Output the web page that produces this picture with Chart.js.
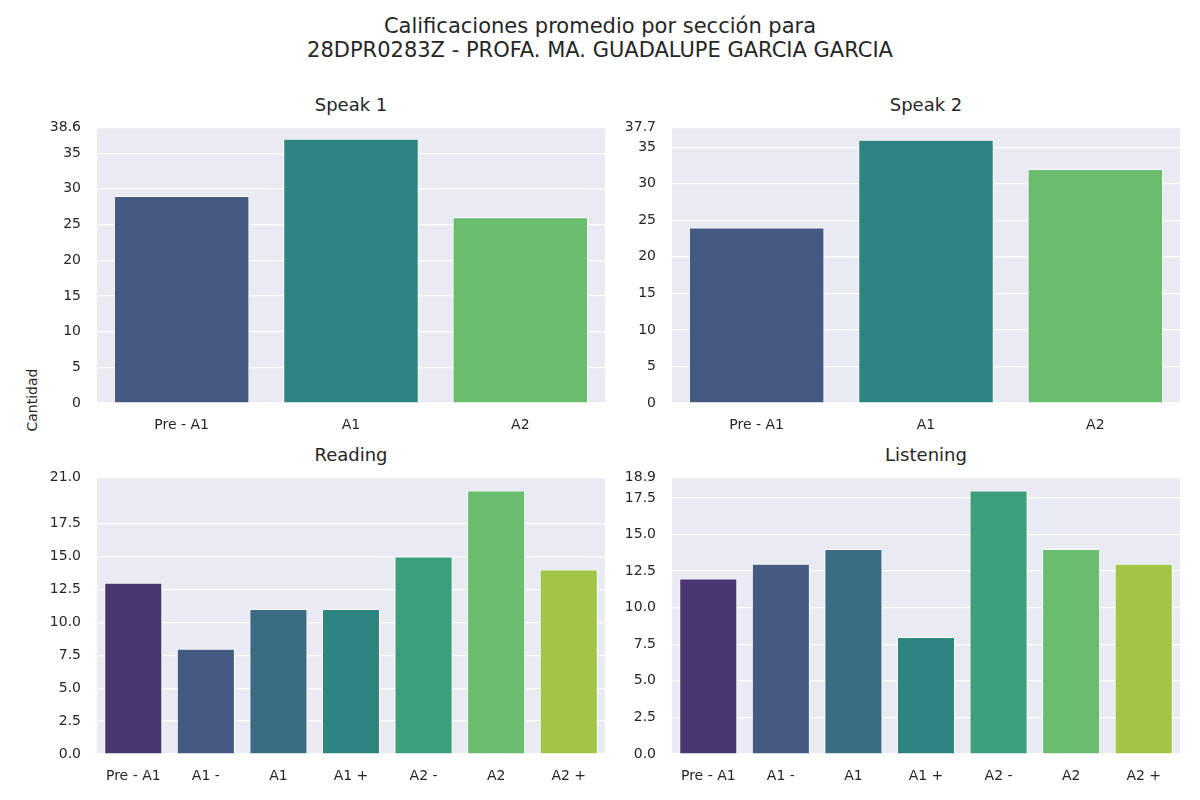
<!DOCTYPE html>
<html><head><meta charset="utf-8">
<script src="https://cdn.jsdelivr.net/npm/chart.js@4"></script>
<style>
body{margin:0;width:1200px;height:800px;background:#fff;position:relative;font-family:"DejaVu Sans",sans-serif;color:#262626;overflow:hidden}
.t{position:absolute;text-align:center;white-space:nowrap}
canvas{position:absolute}
</style></head><body>
<div class="t" style="left:0;width:1200px;top:14px;font-size:21px;line-height:24px">Calificaciones promedio por sección para<br>28DPR0283Z - PROFA. MA. GUADALUPE GARCIA GARCIA</div>
<div class="t" style="left:97px;width:508px;top:94px;font-size:18px">Speak 1</div>
<div class="t" style="left:672px;width:508px;top:94px;font-size:18px">Speak 2</div>
<div class="t" style="left:97px;width:508px;top:444px;font-size:18px">Reading</div>
<div class="t" style="left:672px;width:508px;top:444px;font-size:18px">Listening</div>
<div class="t" style="left:32px;top:400px;font-size:14px;transform:translate(-50%,-50%) rotate(-90deg)">Cantidad</div>
<canvas id="c1"></canvas><canvas id="c2"></canvas><canvas id="c3"></canvas><canvas id="c4"></canvas>
<script>
const speakCats=["Pre - A1","A1","A2"];
const speak1Vals=[29,37,26];
const speak2Vals=[24,36,32];
const levelCats=["Pre - A1","A1 -","A1","A1 +","A2 -","A2","A2 +"];
const readingVals=[13,8,11,11,15,20,14];
const listeningVals=[12,13,14,8,18,14,13];
const col3=["#455a82","#2e847e","#6bbd6e"];
const col7=["#4a3670","#455a82","#3a6d82","#2e847e","#3b9f7c","#6bbd6e","#a2c546"];
const bg={id:'bg',beforeDraw(c){const a=c.chartArea,x=c.ctx;x.save();x.fillStyle='#eaeaf2';x.fillRect(a.left,a.top,a.right-a.left,a.bottom-a.top);x.restore();}};
function mk(id,L,T,W,H,cats,vals,cols,max,step){
  const cv=document.getElementById(id);
  const yw=70,xh=40;
  cv.style.left=(L-yw)+'px';cv.style.top=(T-10)+'px';
  cv.style.width=(W+yw+2)+'px';cv.style.height=(H+xh+10)+'px';
  new Chart(cv,{type:'bar',data:{labels:cats,datasets:[{data:vals,backgroundColor:cols,borderColor:'#fff',borderWidth:1,barPercentage:0.8,categoryPercentage:1}]},
  options:{responsive:false,animation:false,devicePixelRatio:1,layout:{padding:{top:10,right:2,left:0,bottom:0}},
   plugins:{legend:{display:false},tooltip:{enabled:false}},
   scales:{x:{grid:{display:false},border:{display:false},ticks:{color:'#262626',font:{size:14,family:'DejaVu Sans'},padding:6},afterFit(s){s.height=xh;}},
    y:{min:0,max:max,grid:{color:'#fff',lineWidth:1.2},border:{display:false},
     ticks:{stepSize:step,color:'#262626',font:{size:14,family:'DejaVu Sans'},padding:8,callback:v=>step<5?v.toFixed(1):v},afterFit(s){s.width=yw;}}}},plugins:[bg]});
}
function size(id,L,T){const c=document.getElementById(id);}
[["c1",97,121,508,282,speakCats,speak1Vals,col3,38.6,5],
 ["c2",672,121,508,282,speakCats,speak2Vals,col3,37.7,5],
 ["c3",97,471,508,283,levelCats,readingVals,col7,21,2.5],
 ["c4",672,471,508,283,levelCats,listeningVals,col7,18.9,2.5]].forEach(a=>{
  const c=document.getElementById(a[0]);c.width=a[3]+72;c.height=a[4]+50;mk(...a);});
</script></body></html>
